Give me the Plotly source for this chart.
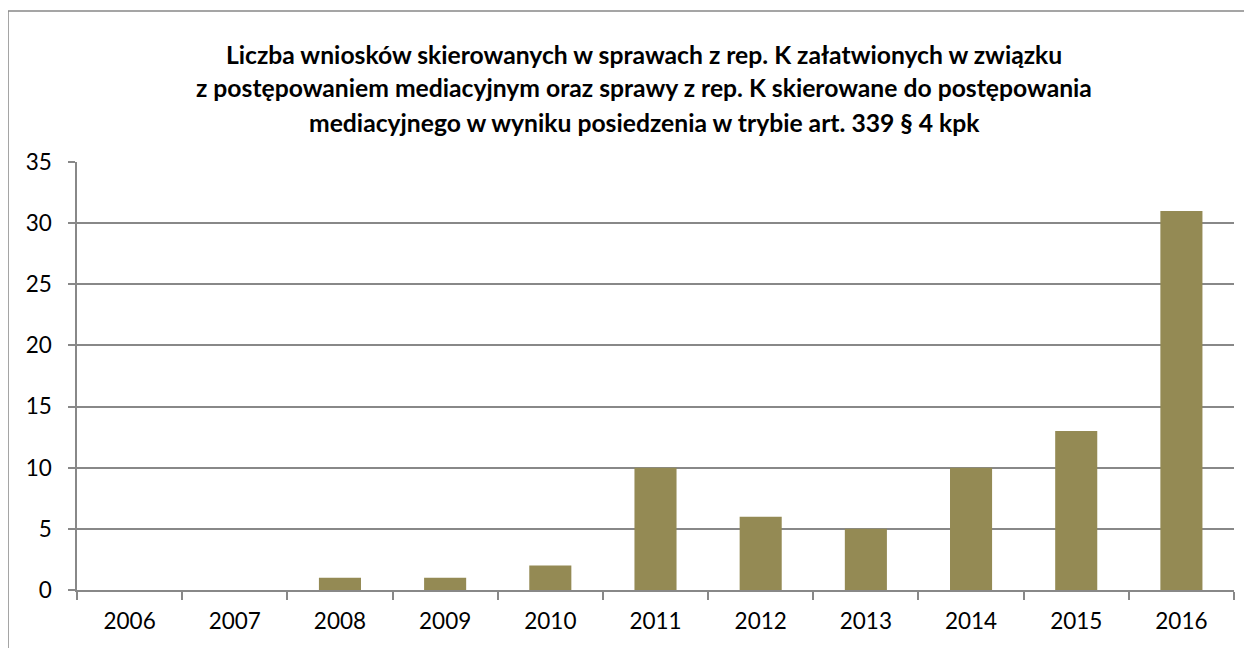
import plotly.graph_objects as go

years = ["2006", "2007", "2008", "2009", "2010", "2011", "2012", "2013", "2014", "2015", "2016"]
values = [0, 0, 1, 1, 2, 10, 6, 5, 10, 13, 31]
y_ticks = [0, 5, 10, 15, 20, 25, 30, 35]
title_lines = [
    "Liczba wniosków skierowanych w sprawach z rep. K załatwionych w związku",
    "z postępowaniem mediacyjnym oraz sprawy z rep. K skierowane do postępowania",
    "mediacyjnego w wyniku posiedzenia w trybie art. 339 § 4 kpk",
]

# page has an 8px body margin; figure sized to fit the window
W, H = 1244, 640
L, R, T, B = 69, 18, 154, 58
pw, ph = W - L - R, H - T - B
PX0, PY0 = 77, 590  # screen position of plot origin

FONT = "Lato"
GRID = "#888888"

fig = go.Figure()
fig.add_trace(go.Bar(x=years, y=values, marker=dict(color="#948A54", line=dict(width=0)), hoverinfo="x+y"))

fig.update_layout(
    width=W, height=H,
    margin=dict(l=L, r=R, t=T, b=B, autoexpand=False),
    paper_bgcolor="white", plot_bgcolor="white",
    bargap=0.6, showlegend=False,
    font=dict(family=FONT, size=22.5, color="#000000"),
)
fig.update_xaxes(
    type="category", showgrid=False, showline=True, linecolor=GRID, linewidth=1.5,
    ticks="outside", tickson="boundaries", ticklen=8, tickcolor=GRID, tickwidth=1.5,
    tickfont=dict(family=FONT, size=22.5), ticklabelstandoff=10,
)
fig.update_yaxes(
    range=[0, 35], tickvals=y_ticks, showgrid=True, gridcolor=GRID, gridwidth=1.5,
    showline=True, linecolor=GRID, linewidth=1.5, zeroline=False,
    ticks="outside", ticklen=7, tickcolor=GRID, tickwidth=1.5,
    tickfont=dict(family=FONT, size=22.5), ticklabelstandoff=12,
)

def px_x(px):
    return (px - PX0) / pw

def px_y(py):
    return (PY0 - py) / ph

# Outer chart border (top and left visible)
fig.add_shape(type="rect", xref="paper", yref="paper",
              x0=px_x(8), x1=px_x(1270), y0=px_y(11), y1=px_y(670),
              line=dict(color=GRID, width=1.5), fillcolor="rgba(0,0,0,0)", layer="below")

for line, py in zip(title_lines, [54, 88, 122]):
    fig.add_annotation(text="<b>" + line + "</b>", xref="paper", yref="paper",
                       x=px_x(644), y=px_y(py), showarrow=False,
                       xanchor="center", yanchor="middle",
                       font=dict(family=FONT, size=24.7, color="#000000"))

fig.write_html("out.html")
